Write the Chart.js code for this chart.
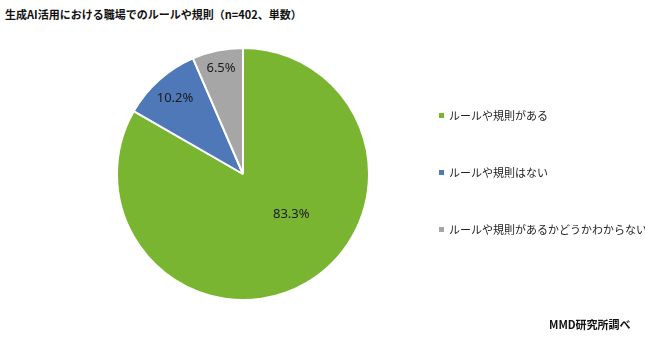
<!DOCTYPE html>
<html lang="ja">
<head>
    <meta charset="UTF-8">
    <title>生成AI活用における職場でのルールや規則</title>
    <script src="https://cdn.jsdelivr.net/npm/chart.js"></script>
    <style>
        body {
            margin: 0;
            background: #fff;
            font-family: "Noto Sans CJK JP", "Noto Sans", sans-serif;
        }
        .wrap {
            position: relative;
            width: 645px;
            height: 338px;
        }
        .title {
            position: absolute;
            left: 5px;
            top: 6px;
            font-size: 11px;
            font-weight: bold;
            color: #111;
            white-space: nowrap;
        }
        .footer {
            position: absolute;
            left: 549px;
            top: 316px;
            font-size: 11px;
            font-weight: bold;
            color: #111;
            white-space: nowrap;
        }
        .legend-item {
            position: absolute;
            left: 439px;
            font-size: 11px;
            color: #222;
            white-space: nowrap;
            line-height: 14px;
        }
        .legend-item span {
            display: inline-block;
            width: 5px;
            height: 5px;
            margin-right: 5px;
            vertical-align: 2px;
        }
        canvas { position: absolute; left: 0; top: 0; }
    </style>
</head>
<body>
    <div class="wrap">
        <div class="title">生成AI活用における職場でのルールや規則（n=402、単数）</div>
        <canvas id="pie" width="645" height="338"></canvas>
        <div id="legend"></div>
        <div class="footer">MMD研究所調べ</div>
    </div>

    <script>
        // 回答の区分と割合(%)
        const labels = ['ルールや規則がある', 'ルールや規則はない', 'ルールや規則があるかどうかわからない'];
        const values = [83.3, 10.2, 6.5];
        const colors = ['#79b530', '#4e78b8', '#a6a6a6'];

        // legend (html)
        const legendTops = [108, 165, 222];
        const legend = document.getElementById('legend');
        labels.forEach((l, i) => {
            const d = document.createElement('div');
            d.className = 'legend-item';
            d.style.top = legendTops[i] + 'px';
            d.innerHTML = '<span style="background:' + colors[i] + '"></span>' + l;
            legend.appendChild(d);
        });

        // percentage labels inside slices
        const labelPos = [
            { angle: 130, r: 0.5 },   // angle measured clockwise from top, degrees
            { angle: null, r: 0.81 },
            { angle: null, r: 0.86 }
        ];
        const pctLabels = {
            id: 'pctLabels',
            afterDatasetsDraw(chart) {
                const ctx = chart.ctx;
                const meta = chart.getDatasetMeta(0);
                ctx.save();
                ctx.font = '13px "Noto Sans", sans-serif';
                ctx.fillStyle = '#1b1b1b';
                ctx.textAlign = 'center';
                ctx.textBaseline = 'middle';
                meta.data.forEach((arc, i) => {
                    const p = labelPos[i];
                    let a = (arc.startAngle + arc.endAngle) / 2;
                    if (p.angle !== null) a = (p.angle - 90) * Math.PI / 180;
                    const x = arc.x + Math.cos(a) * arc.outerRadius * p.r;
                    const y = arc.y + Math.sin(a) * arc.outerRadius * p.r;
                    ctx.fillText(values[i].toFixed(1) + '%', x, y);
                });
                ctx.restore();
            }
        };

        new Chart(document.getElementById('pie'), {
            type: 'pie',
            data: {
                labels: labels,
                datasets: [{
                    data: values,
                    backgroundColor: colors,
                    borderColor: '#ffffff',
                    borderWidth: 2
                }]
            },
            options: {
                responsive: false,
                animation: false,
                layout: {
                    padding: { left: 116, right: 275, top: 47, bottom: 37 }
                },
                plugins: {
                    legend: { display: false },
                    tooltip: { enabled: false }
                }
            },
            plugins: [pctLabels]
        });
    </script>
</body>
</html>
